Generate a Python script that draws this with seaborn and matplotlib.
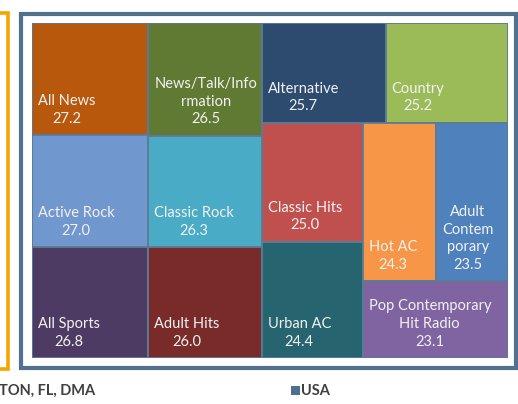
import matplotlib
matplotlib.use("Agg")
import matplotlib.pyplot as plt
from matplotlib.patches import Rectangle
import seaborn as sns

# formats and their values (same order as the layout tree below)
formats = ["All News", "Active Rock", "All Sports",
           "News/Talk/Information", "Classic Rock", "Adult Hits",
           "Alternative", "Country", "Classic Hits", "Urban AC",
           "Hot AC", "Adult Contemporary", "Pop Contemporary Hit Radio"]
values = [27.2, 27.0, 26.8, 26.5, 26.3, 26.0, 25.7, 25.2, 25.0, 24.4, 24.3, 23.5, 23.1]
# labels as wrapped in the cells
cell_labels = ["All News", "Active Rock", "All Sports",
               "News/Talk/Info\nrmation", "Classic Rock", "Adult Hits",
               "Alternative", "Country", "Classic Hits", "Urban AC",
               "Hot AC", "Adult\nContem\nporary", "Pop Contemporary\nHit Radio"]
colors = ["#B8580D", "#7097CE", "#4D3B63",
          "#607A33", "#4AABC6", "#792B2A",
          "#2D4A6F", "#9BBB59", "#C0504D", "#26646F",
          "#F79646", "#4F81BD", "#8064A2"]

# slice-and-dice tree: 'h' splits along x, 'v' along y
tree = ("h", [("v", [0, 1, 2]),
              ("v", [3, 4, 5]),
              ("v", [("h", [6, 7]),
                     ("h", [("v", [8, 9]),
                            ("v", [("h", [10, 11]), 12])])])])


def total(node):
    if isinstance(node, int):
        return values[node]
    return sum(total(c) for c in node[1])


def layout(node, x, y, w, h, out):
    if isinstance(node, int):
        out[node] = (x, y, w, h)
        return
    d, kids = node
    s = total(node)
    for k in kids:
        f = total(k) / s
        if d == "h":
            layout(k, x, y, w * f, h, out)
            x += w * f
        else:
            layout(k, x, y, w, h * f, out)
            y += h * f


sns.set_theme(style="white")
plt.rcParams['font.family'] = ['Lato', 'DejaVu Sans']

W, H = 518, 404
fig = plt.figure(figsize=(W / 100, H / 100), dpi=100)
fig.patch.set_facecolor("white")

# background axes in pixel units for frames and footer
bg = fig.add_axes([0, 0, 1, 1])
bg.set_xlim(0, W)
bg.set_ylim(H, 0)
bg.axis("off")
bg.plot([-5, 7.5, 7.5, -5], [12.5, 12.5, 369, 369], color="#F5A500", lw=2.6,
        solid_joinstyle="miter")
bg.add_patch(Rectangle((20.5, 13.5), 495.5, 354, fill=False, ec="#52718F", lw=3))
bg.text(-1, 391, "TON, FL, DMA", fontsize=10.5, fontweight="bold", color="#404040",
        va="center", ha="left")
bg.add_patch(Rectangle((291, 386), 8.5, 9, color="#4F6F8F", lw=0))
bg.text(301.5, 391, "USA", fontsize=10.5, fontweight="bold", color="#404040",
        va="center", ha="left")

# treemap axes
x0, y0, x1, y1 = 32, 23, 507.5, 358
ax = fig.add_axes([x0 / W, 1 - y1 / H, (x1 - x0) / W, (y1 - y0) / H])
ax.set_xlim(0, x1 - x0)
ax.set_ylim(y1 - y0, 0)
ax.axis("off")

rects = {}
layout(tree, 0, 0, x1 - x0, y1 - y0, rects)
for i, (x, y, w, h) in rects.items():
    ax.add_patch(Rectangle((x, y), w, h, facecolor=colors[i], edgecolor="#5C7B97",
                           lw=1.3))
    ax.text(x + 6, y + h - 9.5, f"{cell_labels[i]}\n{values[i]:.1f}",
            ha="left", va="bottom", multialignment="center", color="#F2F2F2",
            fontsize=10.5, linespacing=1.32)

fig.savefig("out.png", dpi=100)
